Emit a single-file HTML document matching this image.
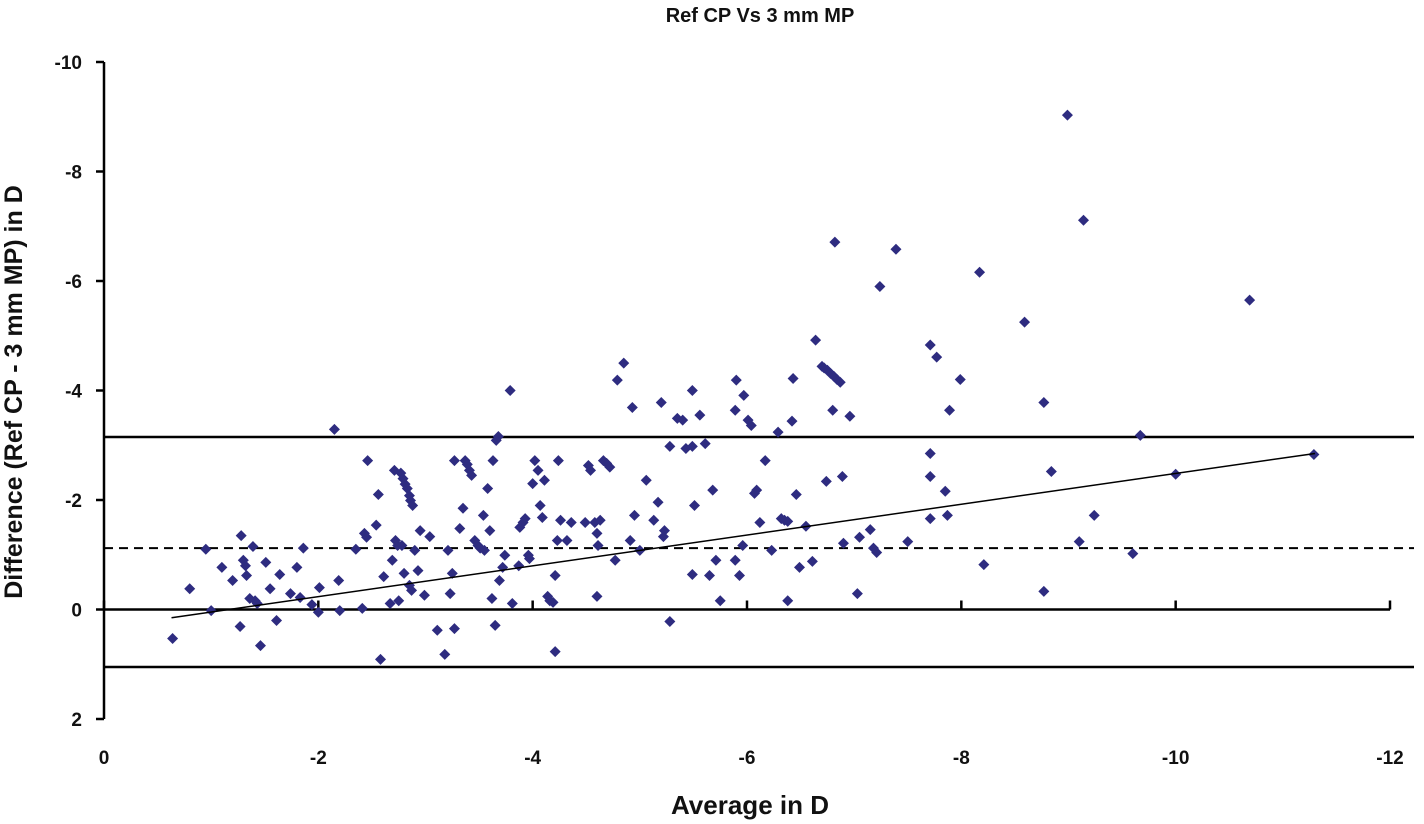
<!DOCTYPE html>
<html><head><meta charset="utf-8">
<style>
html,body{margin:0;padding:0;background:#fff;}
svg{display:block;font-family:"Liberation Sans",Arial,sans-serif;font-weight:bold;}
</style></head>
<body>
<svg id="chart" width="1424" height="824" viewBox="0 0 1424 824" xmlns="http://www.w3.org/2000/svg"></svg>
<script>
const xs = [-0.64,-0.80,-0.95,-1.00,-1.10,-1.20,-1.28,-1.30,-1.32,-1.33,-1.27,-1.36,-1.41,-1.43,-1.39,-1.46,-1.51,-1.55,-1.61,-1.64,-1.74,-1.80,-1.83,-1.86,-1.94,-2.00,-2.01,-2.15,-2.19,-2.20,-2.35,-2.41,-2.43,-2.45,-2.46,-2.54,-2.56,-2.58,-2.61,-2.67,-2.69,-2.71,-2.72,-2.74,-2.75,-2.77,-2.79,-2.81,-2.83,-2.85,-2.86,-2.88,-2.78,-2.80,-2.85,-2.87,-2.90,-2.93,-2.95,-2.99,-3.04,-3.11,-3.18,-3.21,-3.23,-3.25,-3.27,-3.27,-3.32,-3.35,-3.37,-3.39,-3.41,-3.43,-3.46,-3.49,-3.51,-3.54,-3.55,-3.58,-3.60,-3.62,-3.63,-3.65,-3.66,-3.68,-3.69,-3.72,-3.74,-3.79,-3.81,-3.87,-3.88,-3.91,-3.93,-3.96,-3.97,-4.00,-4.02,-4.05,-4.07,-4.09,-4.11,-4.14,-4.16,-4.19,-4.21,-4.21,-4.23,-4.24,-4.26,-4.32,-4.36,-4.49,-4.52,-4.54,-4.58,-4.60,-4.61,-4.63,-4.60,-4.66,-4.69,-4.72,-4.77,-4.79,-4.85,-4.91,-4.93,-4.95,-5.00,-5.06,-5.13,-5.17,-5.20,-5.22,-5.23,-5.28,-5.28,-5.35,-5.40,-5.43,-5.49,-5.49,-5.51,-5.49,-5.56,-5.61,-5.65,-5.71,-5.68,-5.75,-5.89,-5.89,-5.93,-5.97,-5.90,-5.96,-6.01,-6.04,-6.07,-6.09,-6.12,-6.17,-6.23,-6.29,-6.32,-6.35,-6.38,-6.42,-6.43,-6.46,-6.38,-6.49,-6.55,-6.61,-6.64,-6.70,-6.72,-6.75,-6.78,-6.81,-6.84,-6.87,-6.74,-6.80,-6.82,-6.89,-6.90,-6.96,-7.03,-7.05,-7.15,-7.18,-7.21,-7.24,-7.39,-7.50,-7.71,-7.71,-7.71,-7.71,-7.77,-7.85,-7.87,-7.89,-7.99,-8.17,-8.21,-8.59,-8.77,-8.77,-8.84,-8.99,-9.10,-9.14,-9.24,-9.60,-9.67,-10.00,-10.69,-11.29];
const ys = [0.53,-0.38,-1.10,0.02,-0.77,-0.53,-1.35,-0.90,-0.80,-0.62,0.31,-0.20,-0.16,-0.11,-1.15,0.66,-0.86,-0.38,0.20,-0.64,-0.29,-0.77,-0.22,-1.12,-0.09,0.05,-0.40,-3.29,-0.53,0.02,-1.10,-0.02,-1.39,-1.32,-2.72,-1.54,-2.10,0.91,-0.60,-0.11,-0.90,-2.54,-1.26,-1.17,-0.16,-2.49,-2.39,-2.29,-2.21,-2.08,-1.99,-1.90,-1.17,-0.66,-0.44,-0.35,-1.08,-0.71,-1.44,-0.26,-1.33,0.38,0.82,-1.08,-0.29,-0.66,-2.72,0.35,-1.48,-1.85,-2.72,-2.65,-2.54,-2.45,-1.26,-1.17,-1.12,-1.72,-1.08,-2.21,-1.44,-0.20,-2.72,0.29,-3.09,-3.16,-0.53,-0.77,-0.99,-4.00,-0.11,-0.80,-1.50,-1.59,-1.66,-0.99,-0.93,-2.30,-2.72,-2.54,-1.90,-1.68,-2.36,-0.24,-0.16,-0.13,0.77,-0.62,-1.26,-2.72,-1.63,-1.26,-1.59,-1.59,-2.63,-2.54,-1.59,-1.39,-1.17,-1.63,-0.24,-2.72,-2.67,-2.60,-0.90,-4.19,-4.50,-1.26,-3.69,-1.72,-1.08,-2.36,-1.63,-1.96,-3.78,-1.33,-1.44,-2.98,0.22,-3.49,-3.46,-2.94,-4.00,-2.98,-1.90,-0.64,-3.55,-3.03,-0.62,-0.90,-2.18,-0.16,-0.90,-3.64,-0.62,-3.91,-4.19,-1.17,-3.46,-3.36,-2.12,-2.18,-1.59,-2.72,-1.08,-3.24,-1.66,-1.63,-1.61,-3.44,-4.22,-2.10,-0.16,-0.77,-1.52,-0.88,-4.92,-4.44,-4.41,-4.37,-4.31,-4.26,-4.20,-4.15,-2.34,-3.64,-6.71,-2.43,-1.21,-3.53,-0.29,-1.32,-1.46,-1.12,-1.04,-5.90,-6.58,-1.24,-4.83,-2.85,-2.43,-1.66,-4.61,-2.16,-1.72,-3.64,-4.20,-6.16,-0.82,-5.25,-3.78,-0.33,-2.52,-9.03,-1.24,-7.11,-1.72,-1.02,-3.18,-2.47,-5.65,-2.83];
const yTicks = [-10,-8,-6,-4,-2,0,2];
const xTicks = [0,-2,-4,-6,-8,-10,-12];
const meanDiff = -1.12;
const upperLoA = -3.15;
const lowerLoA = 1.05;
const regStart = [-0.63, 0.15];
const regEnd = [-11.3, -2.85];

const NS = "http://www.w3.org/2000/svg";
const svg = document.getElementById('chart');
const X0 = 104, X1 = 1390, Y0 = 62, Y1 = 719;
function sx(v){ return X0 + (v - 0) / (-12 - 0) * (X1 - X0); }
function sy(v){ return Y0 + (v - (-10)) / (2 - (-10)) * (Y1 - Y0); }
function mk(tag, attrs, text){
  const e = document.createElementNS(NS, tag);
  for (const k in attrs) e.setAttribute(k, attrs[k]);
  if (text !== undefined) e.textContent = text;
  svg.appendChild(e);
  return e;
}
let e;
e = mk('text',{x:760,y:22,'text-anchor':'middle','font-size':20,fill:'#111'},'Ref CP Vs 3 mm MP');


e = mk('text',{x:750,y:814,'text-anchor':'middle','font-size':26,fill:'#111'},'Average in D');


e = mk('text',{x:0,y:0,'text-anchor':'middle','font-size':25,fill:'#111',transform:'translate(22,392) rotate(-90)'},'Difference (Ref CP - 3 mm MP) in D');



e = mk('line',{x1:X0,y1:Y0,x2:X0,y2:Y1,stroke:'#000','stroke-width':2.5});


yTicks.forEach(t=>{
  const y = sy(t);
  e = mk('line',{x1:X0-8,y1:y,x2:X0,y2:y,stroke:'#000','stroke-width':2.5});
  
  
  e = mk('text',{x:82,y:y+7,'text-anchor':'end','font-size':19,fill:'#111'},String(t));
  
  
});
e = mk('line',{x1:X0,y1:sy(0),x2:X1,y2:sy(0),stroke:'#000','stroke-width':2.5});


xTicks.forEach(t=>{
  const x = sx(t);
  e = mk('line',{x1:x,y1:sy(0)-9,x2:x,y2:sy(0),stroke:'#000','stroke-width':2.5});
  
  
  e = mk('text',{x:x,y:764,'text-anchor':'middle','font-size':19,fill:'#111'},String(t));
  
  
});
e = mk('line',{x1:X0,y1:sy(upperLoA),x2:1414,y2:sy(upperLoA),stroke:'#000','stroke-width':2.5});


e = mk('line',{x1:X0,y1:sy(lowerLoA),x2:1414,y2:sy(lowerLoA),stroke:'#000','stroke-width':2.5});


e = mk('line',{x1:X0,y1:sy(meanDiff),x2:1414,y2:sy(meanDiff),stroke:'#000','stroke-width':2,'stroke-dasharray':'9,6'});


xs.forEach((v,i)=>{
  const cx = sx(v), cy = sy(ys[i]);
  e = mk('polygon',{points:`${cx},${cy-5.5} ${cx+5.5},${cy} ${cx},${cy+5.5} ${cx-5.5},${cy}`,fill:'#2e2c80'});
  
  
});
e = mk('line',{x1:sx(regStart[0]),y1:sy(regStart[1]),x2:sx(regEnd[0]),y2:sy(regEnd[1]),stroke:'#000','stroke-width':1.5});


</script>
</body></html>
